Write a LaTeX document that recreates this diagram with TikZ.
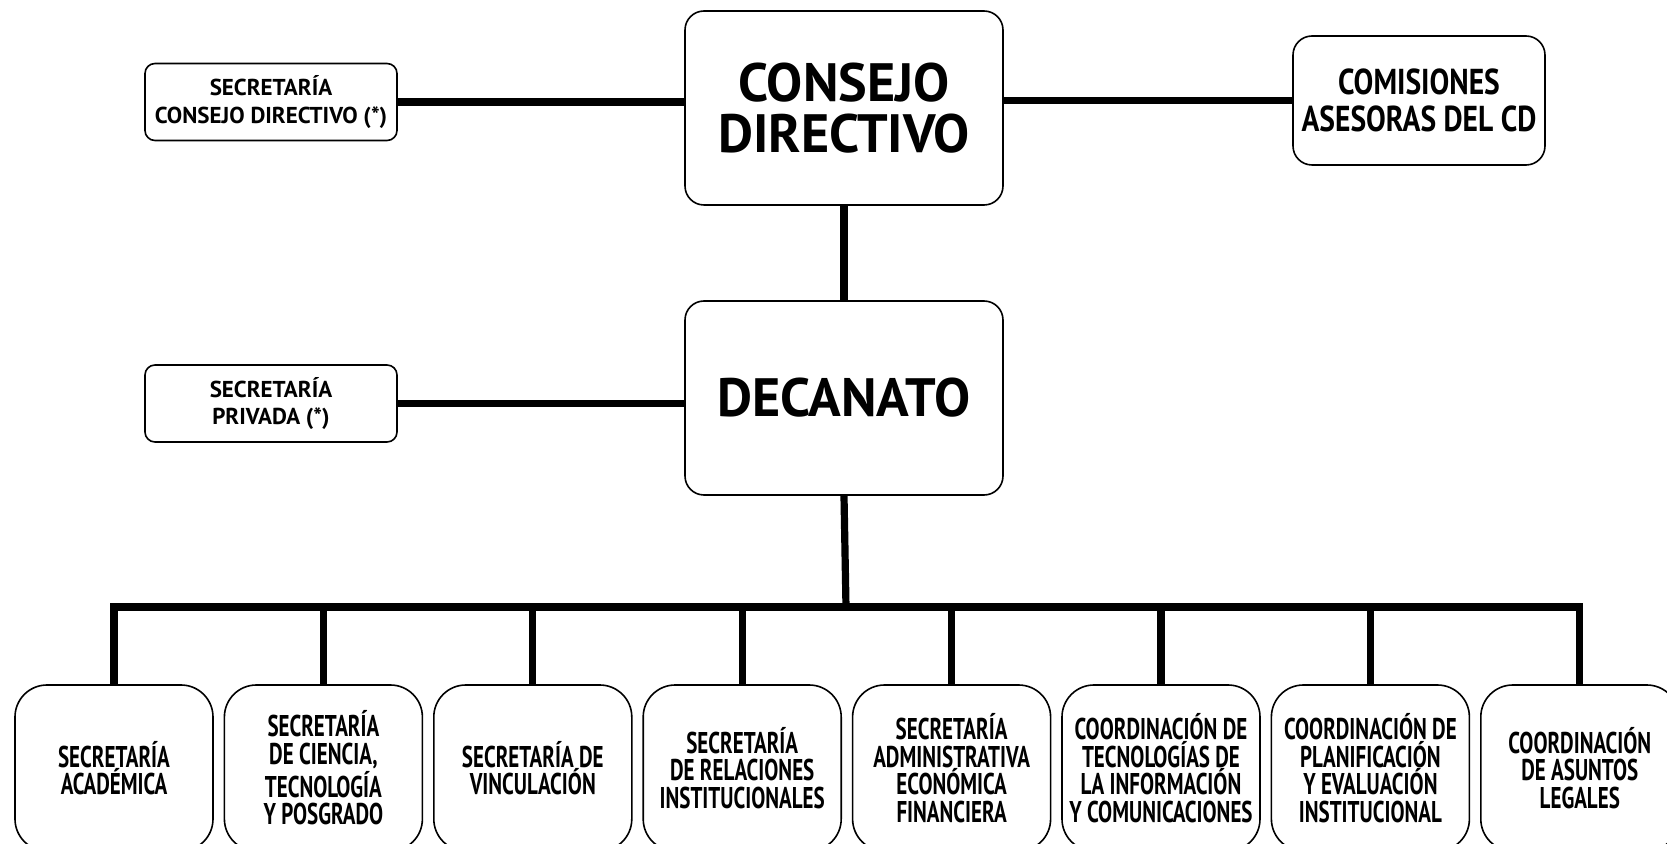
\documentclass[tikz,border=0pt]{standalone}
\usepackage{fontspec}
\setmainfont{PT Sans}
\newfontfamily\topfont{PT Sans}[FakeStretch=1.0]
\newfontfamily\midfont{PT Sans}[FakeStretch=0.82]
\newfontfamily\lowfont{PT Sans}[FakeStretch=0.7]
\begin{document}
\begin{tikzpicture}[x=0.5pt,y=-0.5pt,
  unit/.style={draw, line width=0.8pt, rounded corners=9.5pt, align=center, inner sep=0pt,
    font=\topfont\bfseries},
  bigunit/.style={unit, minimum width=159pt, minimum height=97pt,
    font=\topfont\bfseries\fontsize{27}{25.5}\selectfont},
  sideunit/.style={unit, rounded corners=5pt, minimum width=126pt, minimum height=38.5pt,
    font=\topfont\bfseries\fontsize{11.5}{13.8}\selectfont},
  lowunit/.style={unit, rounded corners=16pt, minimum width=99pt, minimum height=83pt,
    font=\lowfont\bfseries\fontsize{15}{13.8}\selectfont},
  link/.style={line width=3.6pt}]
\clip (0,0) rectangle (1667,844);
% upper levels
\node[bigunit] (cd) at (844,108) {CONSEJO\\DIRECTIVO};
\node[bigunit] (dec) at (844,398) {DECANATO};
\node[sideunit] (seccd) at (271,102) {SECRETARÍA\\CONSEJO DIRECTIVO (*)};
\node[sideunit] (secpr) at (271,403.5) {SECRETARÍA\\PRIVADA (*)};
\node[unit, minimum width=126pt, minimum height=64.5pt,
  font=\midfont\bfseries\fontsize{18}{18.6}\selectfont] (com) at (1419,100.5) {COMISIONES\\ASESORAS DEL CD};
% lower level
\node[lowunit] (b1) at (114,768) {SECRETARÍA\\ACADÉMICA};
\node[lowunit] (b2) at (323.4,768) {SECRETARÍA\\DE CIENCIA,\\TECNOLOGÍA\\Y POSGRADO};
\node[lowunit] (b3) at (532.8,768) {SECRETARÍA DE\\VINCULACIÓN};
\node[lowunit] (b4) at (742.2,768) {SECRETARÍA\\DE RELACIONES\\INSTITUCIONALES};
\node[lowunit] (b5) at (951.6,768) {SECRETARÍA\\ADMINISTRATIVA\\ECONÓMICA\\FINANCIERA};
\node[lowunit] (b6) at (1161,768) {COORDINACIÓN DE\\TECNOLOGÍAS DE\\LA INFORMACIÓN\\Y COMUNICACIONES};
\node[lowunit] (b7) at (1370.4,768) {COORDINACIÓN DE\\PLANIFICACIÓN\\Y EVALUACIÓN\\INSTITUCIONAL};
\node[lowunit] (b8) at (1579.8,768) {COORDINACIÓN\\DE ASUNTOS\\LEGALES};
\coordinate (bus) at (846,607);
% links
\draw[link] (seccd.east) -- (seccd.east -| cd.west);
\draw[link] (com.west) -- (com.west -| cd.east);
\draw[link] (secpr.east) -- (secpr.east -| dec.west);
\draw[link] (cd.south) -- (dec.north);
\draw[link] (dec.south) -- (bus);
\draw[link] (b1.north) -- (b1.north |- bus) -- (b8.north |- bus) -- (b8.north);
\foreach \bb in {2,...,7} {\draw[link] (b\bb.north) -- (b\bb.north |- bus);}
\end{tikzpicture}
\end{document}
